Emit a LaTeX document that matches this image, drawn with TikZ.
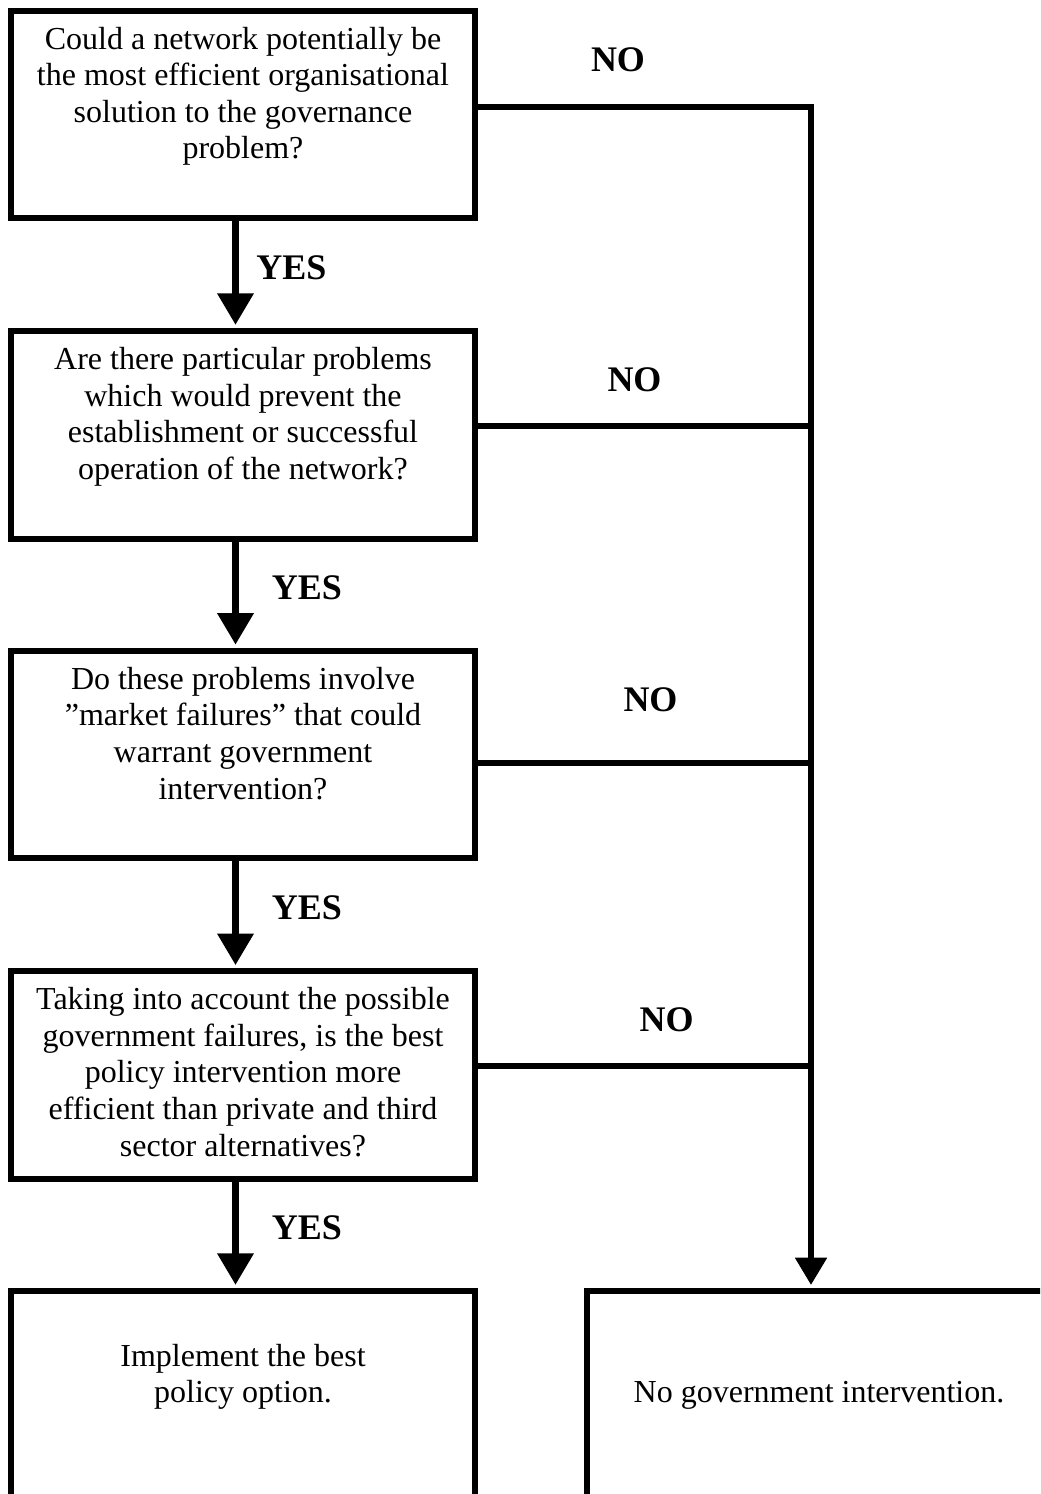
\documentclass[tikz,border=0pt]{standalone}
\usepackage{fontspec}
\setmainfont{Liberation Serif}
\usetikzlibrary{arrows.meta,calc}
\begin{document}
\begin{tikzpicture}[x=0.5pt,y=-0.5pt,
  box/.style={draw=black, line width=3pt, minimum width=232pt, minimum height=103.75pt, inner sep=0pt},
  txt/.style={inner sep=0pt, anchor=base, font=\fontsize{16}{18.3}\selectfont},
  lbl/.style={inner sep=0pt, font=\fontsize{18}{20}\selectfont\bfseries},
  yesarrow/.style={line width=3.85pt, -{Triangle[width=17.35pt,length=15.85pt]}, shorten >=1.5pt},
  noline/.style={line width=3pt},
  noarrow/.style={line width=3pt, -{Triangle[width=15.35pt,length=13.65pt]}, shorten >=1.5pt}]
\path[use as bounding box, clip] (0,0) rectangle (1040,1494);
\fill[white] (0,0) rectangle (1040,1494);

% boxes
\node[box] (q1) at (243,114.25) {};
\node[box] (q2) at (243,434.75) {};
\node[box] (q3) at (243,754.5) {};
\node[box] (q4) at (243,1075) {};
\node[box] (r1) at (243,1394.75) {};
\node[box] (r2) at (819,1394.75) {};

% texts
\node[txt] (t1) at ($(q1.north)+(0,41.5)$) {\parbox[t]{240pt}{\centering Could a network potentially be\\the most efficient organisational\\solution to the governance\\problem?}};
\node[txt] (t2) at ($(q2.north)+(0,41.5)$) {\parbox[t]{240pt}{\centering Are there particular problems\\which would prevent the\\establishment or successful\\operation of the network?}};
\node[txt] (t3) at ($(q3.north)+(0,41.5)$) {\parbox[t]{240pt}{\centering Do these problems involve\\”market failures” that could\\warrant government\\intervention?}};
\node[txt] (t4) at ($(q4.north)+(0,41.5)$) {\parbox[t]{240pt}{\centering Taking into account the possible\\government failures, is the best\\policy intervention more\\efficient than private and third\\sector alternatives?}};
\node[txt] (t5) at ($(r1.north)+(0,78.1)$) {\parbox[t]{240pt}{\centering Implement the best\\policy option.}};
\node[txt] (t6) at ($(r2.north)+(0,114.7)$) {\parbox[t]{240pt}{\centering No government intervention.}};

% YES arrows
\coordinate (ax) at (235.5,0);
\draw[yesarrow] (ax |- q1.south) -- (ax |- q2.north);
\draw[yesarrow] (ax |- q2.south) -- (ax |- q3.north);
\draw[yesarrow] (ax |- q3.south) -- (ax |- q4.north);
\draw[yesarrow] (ax |- q4.south) -- (ax |- r1.north);

% NO connectors
\coordinate (v1) at (811,106.5);
\coordinate (v2) at (811,426.3);
\coordinate (v3) at (811,763);
\coordinate (v4) at (811,1066.3);
\draw[noarrow] (q1.east |- v1) -- (v1) -- (v1 |- r2.north);
\draw[noline] (q2.east |- v2) -- (v2);
\draw[noline] (q3.east |- v3) -- (v3);
\draw[noline] (q4.east |- v4) -- (v4);

% labels
\node[lbl] (y1) at (291.5,267.5) {YES};
\node[lbl] (y2) at (307,588) {YES};
\node[lbl] (y3) at (307,908) {YES};
\node[lbl] (y4) at (307,1228) {YES};
\node[lbl] (n1) at (618,60) {NO};
\node[lbl] (n2) at (634.5,380) {NO};
\node[lbl] (n3) at (650.5,700) {NO};
\node[lbl] (n4) at (666.5,1020) {NO};
\end{tikzpicture}
\end{document}
